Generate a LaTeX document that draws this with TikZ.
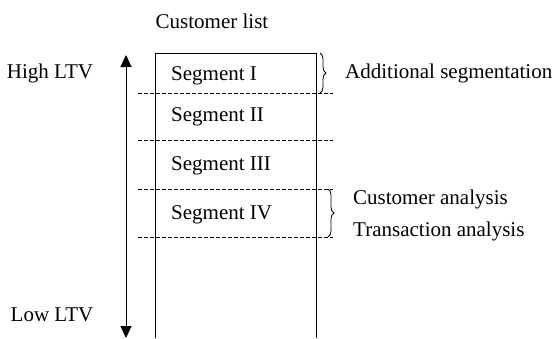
\documentclass[tikz,border=0pt]{standalone}
\usepackage{fontspec}
\setmainfont{Liberation Serif}
\usetikzlibrary{decorations.pathreplacing,arrows.meta}

\begin{document}
\begin{tikzpicture}[x=1pt,y=-1pt,
		lbl/.style={font=\fontsize{21}{24}\selectfont, inner sep=0pt},
		segline/.style={dash pattern=on 3.5pt off 2.5pt, line width=0.8pt},
		brc/.style={decorate, decoration={brace, amplitude=6pt}, line width=0.8pt}]
			\useasboundingbox (0,0) rectangle (555,338);
			% list and value axis
			\node[lbl] (title) at (212,21) {Customer list};
			\node[lbl] (high) at (50,73) {High LTV};
			\node[lbl] (low) at (52,315) {Low LTV};
			\coordinate (top) at (126,55);
			\coordinate (bot) at (126,338);
			\draw[line width=1pt, {Triangle[length=12pt,width=11pt]}-{Triangle[length=12pt,width=11pt]}] (top) -- (bot);
			\draw[line width=1pt] (155,338) -- (155,53) -- (316,53) -- (316,338);
			% segments
			\draw[segline] (138,93) -- (333,93);
			\draw[segline] (138,140) -- (333,140);
			\draw[segline] (138,189) -- (333,189);
			\draw[segline] (138,237) -- (333,237);
			\node[lbl, anchor=west] (seg1) at (171,76) {Segment I};
			\node[lbl, anchor=west] (seg2) at (171,117) {Segment II};
			\node[lbl, anchor=west] (seg3) at (171,166) {Segment III};
			\node[lbl, anchor=west] (seg4) at (171,215) {Segment IV};
			% braces
			\draw[brc] (320,53) -- (320,93);
			\node[lbl, anchor=west] (addseg) at (345,73) {Additional segmentation};
			\draw[brc] (328,189) -- (328,237);
			\node[lbl, anchor=west] (cust) at (353,199) {Customer analysis};
			\node[lbl, anchor=west] (trans) at (353,231) {Transaction analysis};
		\end{tikzpicture}
\end{document}
